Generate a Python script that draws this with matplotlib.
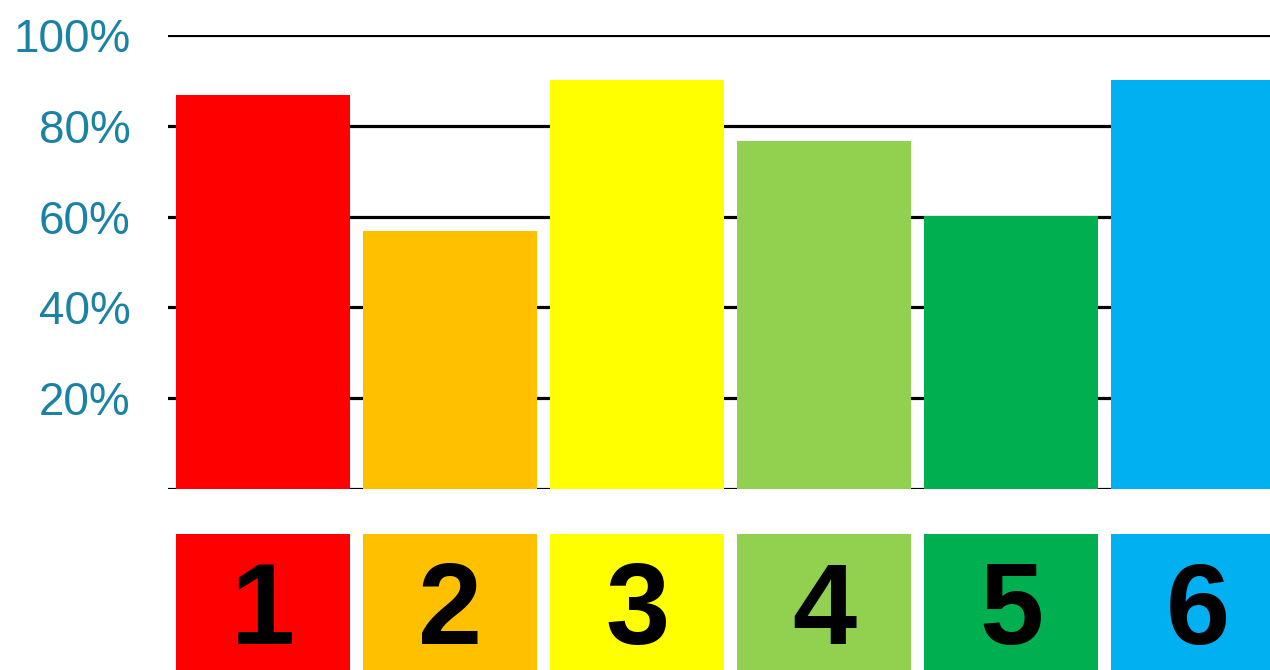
import matplotlib.pyplot as plt

labels = ['1', '2', '3', '4', '5', '6']
values = [86.8, 56.8, 90.1, 76.7, 60.1, 90.1]
colors = ['#FF0000', '#FFC000', '#FFFF00', '#92D050', '#00B050', '#00B0F0']
yticks = [20, 40, 60, 80, 100]
ytick_labels = ['20%', '40%', '60%', '80%', '100%']

plt.rcParams['font.family'] = ['Liberation Sans', 'DejaVu Sans']

fig = plt.figure(figsize=(12.7, 6.7), dpi=100)

# main bar chart
ax = fig.add_axes([168 / 1270, 181 / 670, 1102 / 1270, 454 / 670])
x = range(len(values))
for yv in [0] + yticks:
    ax.axhline(yv, color='black', lw=2.3, zorder=1)
ax.bar(x, values, width=0.935, color=colors, zorder=2)
ax.set_xlim(-0.508, 5.385)
ax.set_ylim(0, 100)
ax.set_yticks(yticks)
ax.set_yticklabels(ytick_labels, color='#1A82A5', fontsize=33)
ax.tick_params(axis='y', length=0, pad=27)
ax.set_xticks([])
for s in ax.spines.values():
    s.set_visible(False)

# number boxes underneath
ax2 = fig.add_axes([168 / 1270, 0, 1102 / 1270, 136 / 670])
ax2.bar(x, [1] * len(labels), width=0.935, color=colors)
for i, lab in enumerate(labels):
    ax2.text(i, 0.41, lab, ha='center', va='center', fontsize=83,
             fontweight='bold', color='black')
ax2.set_xlim(-0.508, 5.385)
ax2.set_ylim(0, 1)
ax2.axis('off')

fig.savefig('out.png', dpi=100)
